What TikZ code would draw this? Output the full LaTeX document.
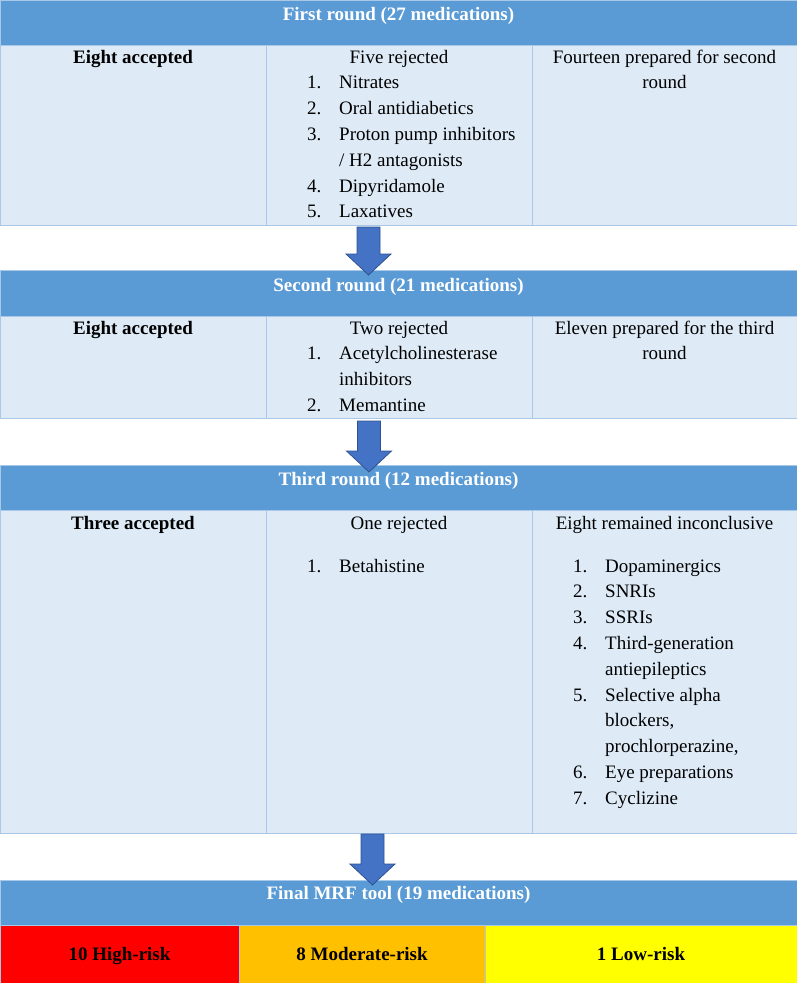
\documentclass[tikz,border=0pt]{standalone}
\usepackage{fontspec}
\setmainfont{Liberation Serif}
\usepackage{array}
\usetikzlibrary{calc,positioning}
\definecolor{headblue}{HTML}{5B9BD5}
\definecolor{cellblue}{HTML}{DEEBF7}
\definecolor{gridblue}{HTML}{A9C8E8}
\definecolor{arrowfill}{HTML}{4472C4}
\definecolor{arrowline}{HTML}{2F528F}
\definecolor{riskred}{HTML}{FF0000}
\definecolor{riskamber}{HTML}{FFC000}
\definecolor{riskyellow}{HTML}{FFFF00}
\newcommand{\cellfont}{\fontsize{19pt}{25.8pt}\selectfont}
\newcommand{\numlist}[1]{\begin{tabular}[t]{@{}p{32pt}@{}l@{}}#1\end{tabular}}
\newcommand{\midlines}[1]{\begin{tabular}[t]{@{}c@{}}#1\end{tabular}}

\begin{document}
\begin{tikzpicture}[
  x=1pt,y=-1pt,
  cell/.style={draw=gridblue, line width=1pt, anchor=north west, inner sep=0pt, outer sep=0pt},
  headcell/.style={cell, fill=headblue, minimum width=797pt},
  bodycell/.style={cell, fill=cellblue},
  riskcell/.style={cell, minimum height=58pt, text height=17pt, text depth=4pt, font=\cellfont\bfseries},
  lbl/.style={anchor=base, inner sep=0pt, font=\cellfont},
  lblb/.style={lbl, font=\cellfont\bfseries},
  headlbl/.style={lblb, text=white},
  lst/.style={anchor=base west, inner sep=0pt, font=\cellfont},
  bigarrow/.style={draw=arrowline, fill=arrowfill, line width=0.8pt,
    to path={let \p1=(\tikztostart), \p2=(\tikztotarget) in
      (\x1-11.5pt,\y1) -- (\x1+11.5pt,\y1) -- (\x1+11.5pt,\y2+21pt)
      -- (\x1+22.5pt,\y2+21pt) -- (\x1,\y2) -- (\x1-22.5pt,\y2+21pt)
      -- (\x1-11.5pt,\y2+21pt) -- cycle}}
]
\useasboundingbox (0,0) rectangle (797,983);

% first round
\node[headcell, minimum height=45pt] (h1) at (0,0) {};
\node[bodycell, minimum width=266pt, minimum height=180pt] (c1a) at (0,45) {};
\node[bodycell, minimum width=266pt, minimum height=180pt] (c1b) at (c1a.north east) {};
\node[bodycell, minimum width=265pt, minimum height=180pt] (c1c) at (c1b.north east) {};
\node[headlbl] (t1) at (h1.north) [yshift=-20pt] {First round (27 medications)};
\node[lblb] (t1a) at (c1a.north) [yshift=-18pt] {Eight accepted};
\node[lbl] (t1b) at (c1b.north) [yshift=-18pt] {Five rejected};
\node[lst] (l1b) at (c1b.north west) [xshift=41pt, yshift=-43.8pt]
  {\numlist{1. & Nitrates\\ 2. & Oral antidiabetics\\ 3. & Proton pump inhibitors\\
   & / H2 antagonists\\ 4. & Dipyridamole\\ 5. & Laxatives}};
\node[lbl] (t1c) at (c1c.north) [yshift=-18pt]
  {\midlines{Fourteen prepared for second\\ round}};

% second round
\node[headcell, minimum height=46pt] (h2) at (0,270) {};
\node[bodycell, minimum width=266pt, minimum height=102pt] (c2a) at (0,316) {};
\node[bodycell, minimum width=266pt, minimum height=102pt] (c2b) at (c2a.north east) {};
\node[bodycell, minimum width=265pt, minimum height=102pt] (c2c) at (c2b.north east) {};
\node[headlbl] (t2) at (h2.north) [yshift=-21pt] {Second round (21 medications)};
\node[lblb] (t2a) at (c2a.north) [yshift=-18pt] {Eight accepted};
\node[lbl] (t2b) at (c2b.north) [yshift=-18pt] {Two rejected};
\node[lst] (l2b) at (c2b.north west) [xshift=41pt, yshift=-43.8pt]
  {\numlist{1. & Acetylcholinesterase\\ & inhibitors\\ 2. & Memantine}};
\node[lbl] (t2c) at (c2c.north) [yshift=-18pt]
  {\midlines{Eleven prepared for the third\\ round}};

% third round
\node[headcell, minimum height=45pt] (h3) at (0,465) {};
\node[bodycell, minimum width=266pt, minimum height=323pt] (c3a) at (0,510) {};
\node[bodycell, minimum width=266pt, minimum height=323pt] (c3b) at (c3a.north east) {};
\node[bodycell, minimum width=265pt, minimum height=323pt] (c3c) at (c3b.north east) {};
\node[headlbl] (t3) at (h3.north) [yshift=-20pt] {Third round (12 medications)};
\node[lblb] (t3a) at (c3a.north) [yshift=-19pt] {Three accepted};
\node[lbl] (t3b) at (c3b.north) [yshift=-19pt] {One rejected};
\node[lst] (l3b) at (c3b.north west) [xshift=41pt, yshift=-62pt]
  {\numlist{1. & Betahistine}};
\node[lbl] (t3c) at (c3c.north) [yshift=-19pt] {Eight remained inconclusive};
\node[lst] (l3c) at (c3c.north west) [xshift=41pt, yshift=-62pt]
  {\numlist{1. & Dopaminergics\\ 2. & SNRIs\\ 3. & SSRIs\\ 4. & Third-generation\\
   & antiepileptics\\ 5. & Selective alpha\\ & blockers,\\ & prochlorperazine,\\
   6. & Eye preparations\\ 7. & Cyclizine}};

% final tool
\node[headcell, minimum height=45pt] (h4) at (0,880) {};
\node[headlbl] (t4) at (h4.north) [yshift=-19pt] {Final MRF tool (19 medications)};
\node[riskcell, fill=riskred, minimum width=239pt] (r1) at (0,925) {10 High-risk};
\node[riskcell, fill=riskamber, minimum width=246pt] (r2) at (r1.north east) {8 Moderate-risk};
\node[riskcell, fill=riskyellow, minimum width=312pt] (r3) at (r2.north east) {1 Low-risk};

% arrows between rounds
\coordinate (a1s) at ([xshift=-30.5pt, yshift=-2pt]c1b.south);
\coordinate (a1e) at ([xshift=-30pt, yshift=-5pt]h2.north);
\coordinate (a2s) at ([xshift=-30pt, yshift=-3pt]c2b.south);
\coordinate (a2e) at ([xshift=-30pt, yshift=-7pt]h3.north);
\coordinate (a3s) at ([xshift=-26.5pt, yshift=-1pt]c3b.south);
\coordinate (a3e) at ([xshift=-26pt, yshift=-5pt]h4.north);
\path[bigarrow] (a1s) to (a1e);
\path[bigarrow] (a2s) to (a2e);
\path[bigarrow] (a3s) to (a3e);

\end{tikzpicture}
\end{document}
